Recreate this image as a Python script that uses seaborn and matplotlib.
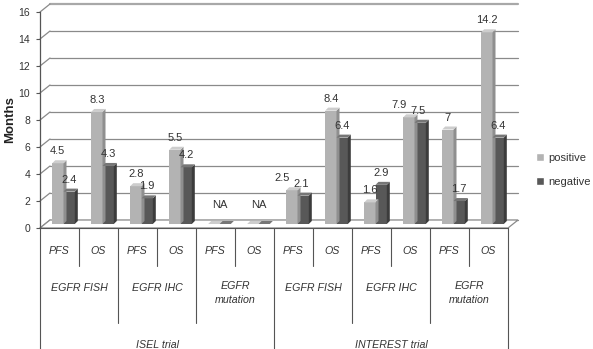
import numpy as np
import pandas as pd
import seaborn as sns
import matplotlib.pyplot as plt
from matplotlib import transforms
from matplotlib.patches import Polygon, Patch
from matplotlib.lines import Line2D

# chart data
measures = ["PFS", "OS"] * 6
markers = ["EGFR FISH", "EGFR IHC", "EGFR\nmutation"] * 2
trials = ["ISEL trial", "INTEREST trial"]
positive = [4.5, 8.3, 2.8, 5.5, np.nan, np.nan, 2.5, 8.4, 1.6, 7.9, 7.0, 14.2]
negative = [2.4, 4.3, 1.9, 4.2, np.nan, np.nan, 2.1, 6.4, 2.9, 7.5, 1.7, 6.4]
yticks = list(range(0, 17, 2))

W, H = 593, 349
sns.set_style("white")
plt.rcParams["font.family"] = ["Liberation Sans", "DejaVu Sans"]

fig = plt.figure(figsize=(W / 100, H / 100), dpi=100)
ax = fig.add_axes([40 / W, 1 - 228 / H, 468 / W, 216 / H])

n = len(measures)
slots = [f"s{i}" for i in range(n)]
df = pd.DataFrame({
    "slot": slots * 2,
    "status": ["positive"] * n + ["negative"] * n,
    "months": np.nan_to_num(positive + negative, nan=0.0),
})
pal = {"positive": "#b3b3b3", "negative": "#585858"}
sides = {"positive": "#8f8f8f", "negative": "#3c3c3c"}
tops = {"positive": "#cdcdcd", "negative": "#767676"}

sns.barplot(data=df, x="slot", y="months", hue="status", palette=pal,
            width=0.58, legend=False, ax=ax, linewidth=0, saturation=1)
ax.set_xlim(-0.5, n - 0.5)
ax.set_ylim(0, 16)
bars = list(ax.patches)

# back wall gridlines and floor (pseudo 3D)
back = transforms.offset_copy(ax.transData, fig=fig, x=10, y=8, units="dots")
grid_c = "#8a8a8a"
for v in yticks:
    ax.plot([-0.5, n - 0.5], [v, v], color="#a8a8a8" if v == 16 else grid_c,
            lw=1.6 if v == 16 else 0.9, transform=back, clip_on=False, zorder=0)
    p0 = ax.transData.transform((-0.5, v))
    ax.add_line(Line2D([p0[0], p0[0] + 10], [p0[1], p0[1] + 8], color=grid_c,
                       lw=0.9, transform=None, clip_on=False, zorder=0))
f0 = ax.transData.transform((-0.5, 0))
f1 = ax.transData.transform((n - 0.5, 0))
ax.add_patch(Polygon([f0, f1, f1 + [10, 8], f0 + [10, 8]], closed=True,
                     facecolor="white", edgecolor=grid_c, lw=0.9,
                     transform=None, clip_on=False, zorder=0.5))

# shift bars to mid depth and add side / top faces
mid = transforms.offset_copy(ax.transData, fig=fig, x=4, y=4, units="dots")
d = 3
lab = dict(textcoords="offset points", ha="center", va="bottom",
           fontsize=8, color="#333333")
for i, b in enumerate(bars):
    status = "positive" if i < n else "negative"
    k = i % n
    b.set_transform(mid)
    b.set_zorder(2)
    x0, y0 = b.get_x(), b.get_y()
    x1, y1 = x0 + b.get_width(), y0 + b.get_height()
    (a0, c0) = mid.transform((x0, y0))
    (a1, c1) = mid.transform((x1, y1))
    ax.add_patch(Polygon([(a1, c0), (a1, c1), (a1 + d, c1 + d), (a1 + d, c0 + d)],
                         facecolor=sides[status], lw=0, transform=None,
                         clip_on=False, zorder=2))
    ax.add_patch(Polygon([(a0, c1), (a1, c1), (a1 + d, c1 + d), (a0 + d, c1 + d)],
                         facecolor=tops[status], lw=0, transform=None,
                         clip_on=False, zorder=2))
    v = positive[k] if status == "positive" else negative[k]
    if np.isnan(v):
        continue
    # nudge labels of bar pairs with nearly equal heights apart
    dx = 0
    if abs(positive[k] - negative[k]) < 0.75:
        dx = -7 if status == "positive" else -1.5
    ax.annotate(f"{v:g}", ((x0 + x1) / 2, y1), xycoords=mid,
                xytext=(dx, 5), **lab)

for i in range(n):
    if np.isnan(positive[i]):
        ax.annotate("NA", (i, 0), xycoords=mid, xytext=(0, 10), **lab)

# axes styling
sns.despine(ax=ax, left=False, bottom=True, top=True, right=True)
ax.spines["left"].set_color("#555555")
ax.spines["left"].set_linewidth(0.9)
ax.set_yticks(yticks)
ax.tick_params(axis="y", length=3, width=0.8, color="#555555", pad=4,
               labelsize=7.5, labelcolor="#333333", left=True)
ax.set_xticks([])
ax.set_xlabel("")
ax.set_ylabel("Months", fontsize=9.5, fontweight="bold", color="#222222")
ax.yaxis.set_label_coords(-0.05, 0.5)

# multi-level category axis
tr = transforms.blended_transform_factory(ax.transData, fig.transFigure)
def fy(p):
    return 1 - p / H

line_c = "#555555"
for k in range(n + 1):
    xb = k - 0.5
    if k % 6 == 0:
        bottom = H
    elif k % 2 == 0:
        bottom = 323
    else:
        bottom = 266
    ax.add_line(Line2D([xb, xb], [fy(228), fy(bottom)], color=line_c, lw=0.8,
                       transform=tr, clip_on=False))
ax.add_line(Line2D([-0.5, n - 0.5], [fy(228), fy(228)], color=line_c, lw=0.8,
                   transform=tr, clip_on=False))

txt = dict(ha="center", va="center", fontsize=7.7, style="italic",
           color="#333333", transform=tr)
for i, m in enumerate(measures):
    ax.text(i, fy(251), m, **txt)
for g, m in enumerate(markers):
    yy = 293 if "\n" in m else 288
    ax.text(2 * g + 0.5, fy(yy), m, linespacing=1.5, **txt)
for t, name in enumerate(trials):
    ax.text(6 * t + 2.5, fy(345), name, **txt)

# legend
handles = [Patch(facecolor=pal[s], label=s) for s in ["positive", "negative"]]
fig.legend(handles=handles, loc="center left",
           bbox_to_anchor=(526 / W, 1 - 170 / H), frameon=False,
           fontsize=8, handlelength=0.7, handleheight=0.7, handletextpad=0.4,
           labelspacing=1.3, labelcolor="#333333")

fig.savefig("out.png", dpi=100)
